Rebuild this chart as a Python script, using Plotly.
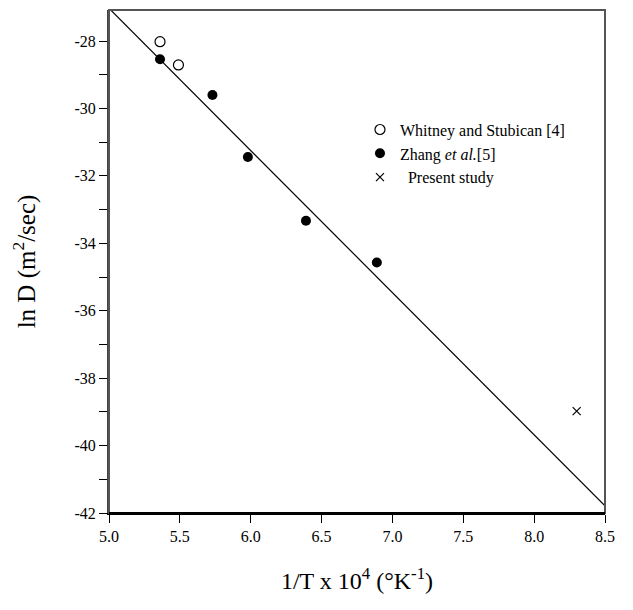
import plotly.graph_objects as go

# Data
whitney_x = [5.36, 5.49]
whitney_y = [-28.02, -28.71]
zhang_x = [5.36, 5.73, 5.98, 6.39, 6.89]
zhang_y = [-28.54, -29.60, -31.44, -33.33, -34.57]
present_x = [8.30]
present_y = [-38.98]
fit_x = [5.0, 8.5]
fit_y = [-27.03, -41.79]

x_ticks = [5.0, 5.5, 6.0, 6.5, 7.0, 7.5, 8.0, 8.5]
y_ticks = [-42, -40, -38, -36, -34, -32, -30, -28]

FONT = "Liberation Serif, Times New Roman, serif"

fig = go.Figure()
fig.add_trace(go.Scatter(x=fit_x, y=fit_y, mode="lines",
                         line=dict(color="black", width=1.2), showlegend=False))
fig.add_trace(go.Scatter(x=whitney_x, y=whitney_y, mode="markers",
                         name="Whitney and Stubican [4]",
                         marker=dict(symbol="circle-open", size=10, color="black",
                                     line=dict(width=1.2, color="black"))))
fig.add_trace(go.Scatter(x=zhang_x, y=zhang_y, mode="markers",
                         name="Zhang <i>et al.</i>[5]",
                         marker=dict(symbol="circle", size=10, color="black")))
fig.add_trace(go.Scatter(x=present_x, y=present_y, mode="markers",
                         name="&nbsp;&nbsp;Present study",
                         marker=dict(symbol="x-thin-open", size=8, color="black",
                                     line=dict(width=1.2, color="black"))))

fig.update_layout(
    width=633, height=610,
    margin=dict(l=101, r=36, t=2, b=105),
    paper_bgcolor="white", plot_bgcolor="white",
    font=dict(family=FONT, size=16, color="black"),
    legend=dict(x=0.506, y=0.796, xanchor="left", yanchor="top",
                bgcolor="rgba(0,0,0,0)", font=dict(family=FONT, size=16),
                tracegroupgap=0, itemwidth=30),
    xaxis=dict(range=[5.0, 8.5], tickvals=x_ticks,
               ticktext=[f"{v:.1f}" for v in x_ticks],
               ticks="outside", ticklen=8, tickwidth=1, tickcolor="black",
               showline=True, linecolor="black", linewidth=2,
               showgrid=False, zeroline=False,
               title=dict(text="1/T x 10<sup>4</sup> (°K<sup>-1</sup>)",
                          font=dict(family=FONT, size=24), standoff=28)),
    yaxis=dict(range=[-42, -27.08], tickvals=y_ticks,
               ticktext=[f"-{abs(v)}" for v in y_ticks],
               ticks="outside", ticklen=8, tickwidth=1, tickcolor="black",
               minor=dict(dtick=1, tick0=-41, ticks="outside", ticklen=8,
                          tickcolor="black", tickwidth=1),
               showline=True, linecolor="#444", linewidth=2,
               showgrid=False, zeroline=False,
               title=dict(text="ln D (m<sup>2</sup>/sec)",
                          font=dict(family=FONT, size=25), standoff=32)),
)
fig.add_shape(type="rect", xref="paper", yref="paper", x0=0, y0=0, x1=1, y1=1,
              line=dict(color="#555", width=2), layer="above")
fig.add_shape(type="line", xref="paper", yref="paper", x0=0, y0=0, x1=1, y1=0,
              line=dict(color="black", width=2), layer="above")

fig.write_html("out.html")
